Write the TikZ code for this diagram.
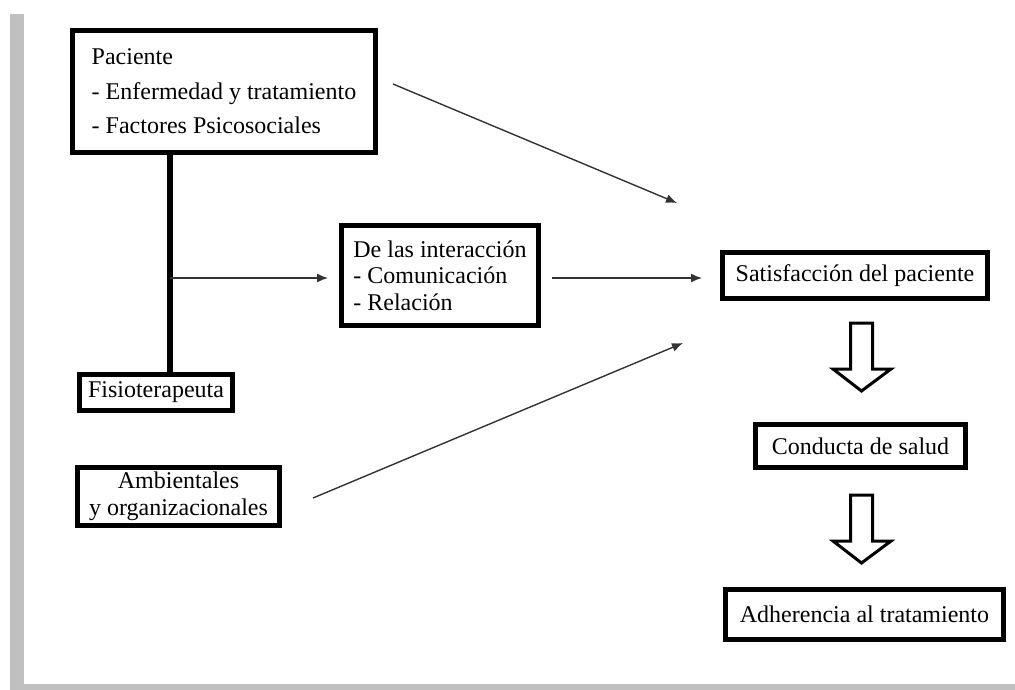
\documentclass[tikz,border=0pt]{standalone}
\usepackage{fontspec}
\setmainfont{Liberation Serif}
\usetikzlibrary{arrows.meta}
\definecolor{framegray}{RGB}{192,192,192}
\begin{document}
\begin{tikzpicture}[x=1pt, y=-1pt,
            box/.style={rectangle, draw, line width=5pt, inner sep=0pt, fill=white,
                        font=\fontsize{24}{26.5}\selectfont},
            arrow/.style={-{Latex[length=11pt,width=9pt]}, line width=1.4pt, black!80},
            trunk/.style={line width=5.5pt},
            bigarrow/.style={draw, line width=3pt, fill=white, line join=miter}
        ]
            \useasboundingbox (0,0) rectangle (1015,690);
            
            % Frame
            \fill[framegray] (10,14) rectangle (24,690);
            \fill[framegray] (10,684) rectangle (1015,690);
            
            % Left side
            \node[box, align=left, minimum width=303, minimum height=122,
                  font=\fontsize{24}{34.5}\selectfont] (pac) at (224,91.5)
                {Paciente\\- Enfermedad y tratamiento\\- Factores Psicosociales};
            \node[box, minimum width=153, minimum height=36] (fisio) at (156,392.5) {Fisioterapeuta};
            \node[box, align=center, minimum width=202, minimum height=58] (amb) at (178.5,496.5)
                {Ambientales\\ y organizacionales};
            
            % Middle
            \node[box, align=left, minimum width=197, minimum height=100] (inter) at (440,275.5)
                {De las interacción\\- Comunicación\\- Relación};
            
            % Right side
            \node[box, minimum width=265, minimum height=46] (sat) at (855,275.5) {Satisfacción del paciente};
            \node[box, minimum width=210, minimum height=43] (cond) at (860.5,446) {Conducta de salud};
            \node[box, minimum width=278, minimum height=50] (adh) at (864.5,614.5) {Adherencia al tratamiento};
            
            % Link
            \coordinate (tee) at (170,278);
            \draw[trunk] (pac.south -| tee) -- (fisio.north -| tee);
            
            % Arrows
            \coordinate (p1) at (393,84);
            \coordinate (p2) at (677,203);
            \coordinate (a1) at (313,498);
            \coordinate (a2) at (683,343);
            \draw[arrow] (tee) -- ([xshift=-11pt]inter.west |- tee);
            \draw[arrow] ([xshift=11pt]inter.east |- tee) -- ([xshift=-18pt]sat.west |- tee);
            \draw[arrow] (p1) -- (p2);
            \draw[arrow] (a1) -- (a2);
            
            % Block arrows
            \foreach \t in {323,495}
                \draw[bigarrow] (850.5,\t) -- (872.5,\t) -- (872.5,\t+46) -- (891,\t+46)
                    -- (861.5,\t+68) -- (833,\t+46) -- (850.5,\t+46) -- cycle;
        \end{tikzpicture}
\end{document}
